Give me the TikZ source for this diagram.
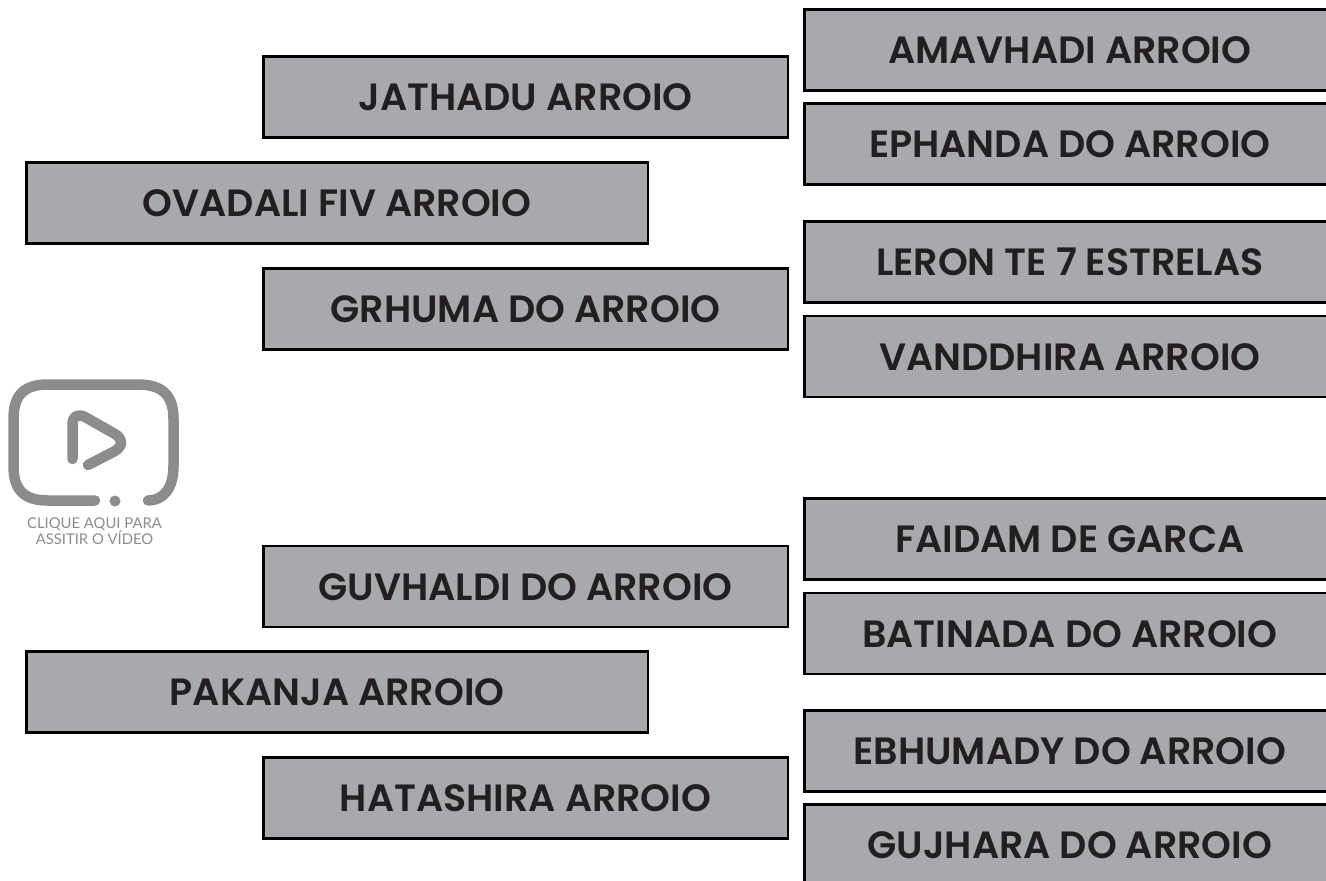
\documentclass[tikz,border=0pt]{standalone}
\usepackage{fontspec}
\setmainfont{Poppins}[BoldFont={* SemiBold}]
\newfontfamily\captionfont{Lato}
\definecolor{boxfill}{HTML}{A7A9AC}
\definecolor{boxtext}{HTML}{231F20}
\definecolor{icongray}{HTML}{8A8C8E}
\tikzset{
  x=1pt,y=-1pt,
  label box/.style={draw=black,line width=2.6pt,fill=boxfill,text=boxtext,inner sep=0pt,
    font=\fontsize{38}{38}\selectfont\bfseries,text height=28pt,text depth=0pt,minimum height=81pt,anchor=north west},
  right box/.style={label box,minimum width=531pt},
  mid box/.style={label box,minimum width=524.5pt},
  far box/.style={label box,minimum width=621.5pt},
  icon line/.style={draw=icongray,line width=10.5pt,line cap=round,line join=round},
  caption text/.style={text=icongray,font=\captionfont\fontsize{14.8}{16}\selectfont,align=center,inner sep=0pt}
}
\begin{document}
\begin{tikzpicture}
\useasboundingbox (0,0) rectangle (1326,881);
\clip (0,0) rectangle (1326,881);
\node[right box] (amavhadi) at (803,8) {AMAVHADI ARROIO};
\node[right box] (ephanda) at (803,102) {EPHANDA DO ARROIO};
\node[right box] (leron) at (803,220) {LERON TE 7 ESTRELAS};
\node[right box] (vanddhira) at (803,314.5) {VANDDHIRA ARROIO};
\node[right box] (faidam) at (803,497) {FAIDAM DE GARCA};
\node[right box] (batinada) at (803,591.5) {BATINADA DO ARROIO};
\node[right box] (ebhumady) at (803,709) {EBHUMADY DO ARROIO};
\node[right box] (gujhara) at (803,803) {GUJHARA DO ARROIO};
\node[mid box] (jathadu) at (262,55) {JATHADU ARROIO};
\node[mid box] (grhuma) at (262,267) {GRHUMA DO ARROIO};
\node[mid box] (guvhaldi) at (262,544.5) {GUVHALDI DO ARROIO};
\node[mid box] (hatashira) at (262,756) {HATASHIRA ARROIO};
\node[far box] (ovadali) at (25,161) {OVADALI FIV ARROIO};
\node[far box] (pakanja) at (25,650) {PAKANJA ARROIO};
% play icon
\draw[icon line] (95,500.5) -- (48,500.5) .. controls (24,500.5) and (13.5,490) .. (13.5,466)
  -- (13.5,419) .. controls (13.5,395) and (24,384.5) .. (48,384.5)
  -- (138,384.5) .. controls (162,384.5) and (173.5,395) .. (173.5,419)
  -- (173.5,466) .. controls (173.5,490) and (162,500.5) .. (148,500.5);
\draw[icon line] (72.5,459) -- (72.5,424) .. controls (72.5,416) and (78,413.5) .. (85,417)
  -- (115,434) .. controls (123,439) and (123,446) .. (115,451) -- (88,465);
\fill[icongray] (115,501) circle (5.5);
\node[caption text] (caption) at (94.5,531) {CLIQUE AQUI PARA\\ASSITIR O VÍDEO};
\end{tikzpicture}
\end{document}
